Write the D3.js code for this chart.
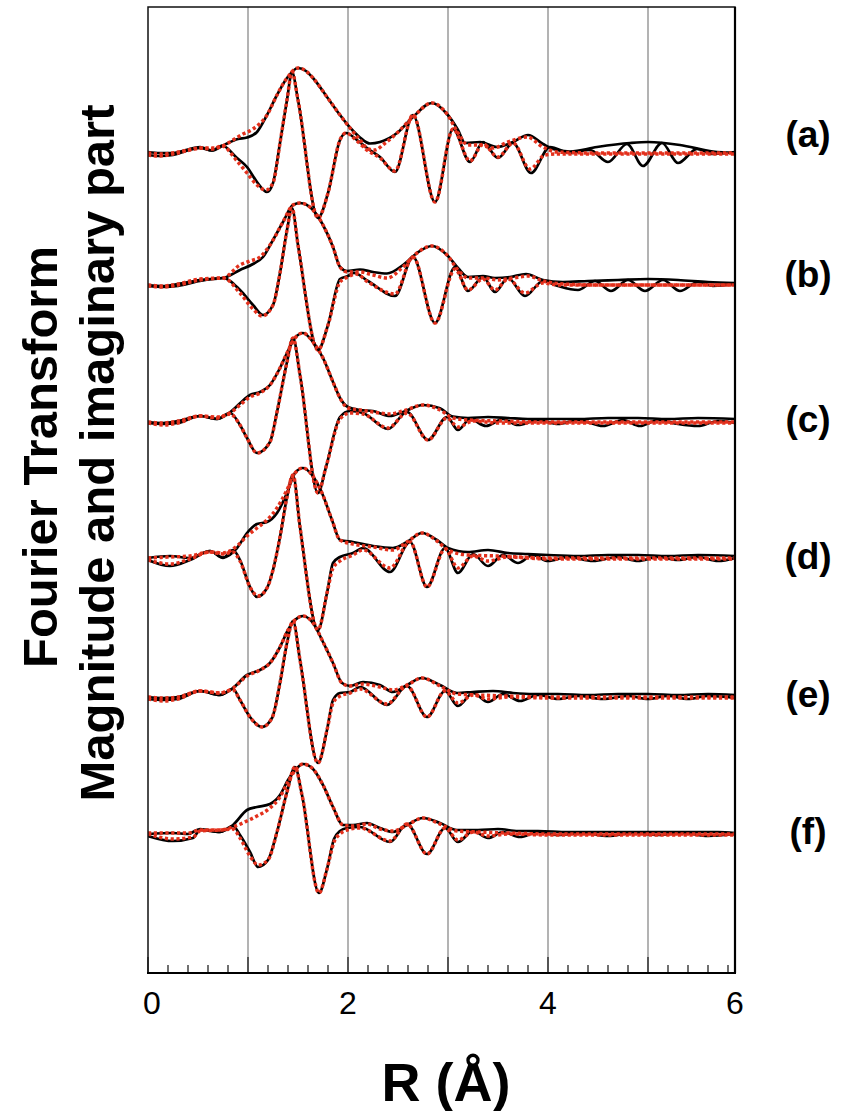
<!DOCTYPE html>
<html><head><meta charset="utf-8">
<script src="https://cdn.jsdelivr.net/npm/d3@7"></script>
<style>
body{margin:0;background:#fff;}
svg{display:block;font-family:"Liberation Sans",Arial,sans-serif;}
</style></head>
<body><svg id="chart" width="842" height="1111"></svg>
<script>
// ---------------- data ----------------
const R_MAX = 5.87;
const xTickLabels = [0, 2, 4, 6];
const gridR = [1, 2, 3, 4, 5];
const panelLabels = ["(a)", "(b)", "(c)", "(d)", "(e)", "(f)"];
const panelOffsets = [820, 688, 551, 415, 276, 139];

// Panel (a)
const magA_data = [[0,1],[0.12,0],[0.25,0],[0.38,3],[0.52,6],[0.64,2.5],[0.74,7],[0.8,10],[0.9,14],[0.99,15.5],[1.09,21],[1.19,38],[1.29,58],[1.39,75],[1.5,85],[1.58,82],[1.65,75],[1.79,56],[1.92,38],[2.02,25.5],[2.12,15.5],[2.22,9.5],[2.32,11],[2.49,20],[2.65,36],[2.84,50],[2.99,39],[3.1,23],[3.17,10],[3.32,11],[3.49,6],[3.65,11],[3.8,18],[3.95,9],[4.05,4],[4.22,1.5],[4.49,6],[4.82,10],[5.0,11],[5.32,8],[5.65,1.5],[5.87,0]];
const magA_fit  = [[0,0],[0.15,-1],[0.3,1],[0.45,4],[0.55,5],[0.65,5],[0.75,7],[0.85,13],[0.95,19],[1.05,24],[1.19,38],[1.29,58],[1.39,75],[1.5,85],[1.58,82],[1.65,75],[1.79,56],[1.92,38],[2.02,25],[2.12,13],[2.2,4],[2.27,3],[2.36,9],[2.49,20],[2.65,36],[2.84,50],[2.99,39],[3.1,20],[3.2,8],[3.32,8],[3.45,5],[3.6,11],[3.79,16],[3.95,6],[4.09,1],[4.5,0],[5.0,0],[5.87,0]];
const imA_data  = [[0,-2],[0.12,-3],[0.25,-2],[0.38,2],[0.52,5],[0.64,2.5],[0.74,7.5],[0.89,-5],[0.99,-14],[1.09,-29],[1.19,-39],[1.25,-30],[1.32,10],[1.39,53],[1.44,81],[1.5,53],[1.7,-65],[1.8,-40],[1.92,13],[1.98,20],[2.09,13],[2.19,5],[2.32,-4],[2.47,-19],[2.65,38],[2.87,-49],[3.05,24],[3.22,-9],[3.35,11],[3.5,-5],[3.65,10],[3.83,-20],[4.02,6],[4.22,0],[4.42,3],[4.6,-9],[4.79,9],[4.95,-13],[5.14,10],[5.3,-10],[5.49,4],[5.65,-1],[5.87,1]];
const imA_fit   = [[0,-2],[0.12,-3],[0.25,-1],[0.38,2],[0.52,5],[0.64,4],[0.74,7],[0.89,-8],[0.99,-20],[1.09,-32],[1.18,-37],[1.25,-30],[1.32,10],[1.39,53],[1.44,81],[1.5,53],[1.7,-65],[1.8,-40],[1.92,13],[1.98,20],[2.09,12],[2.19,3],[2.32,-5],[2.47,-18],[2.65,38],[2.87,-49],[3.05,24],[3.22,-8],[3.35,9],[3.5,-4],[3.65,10],[3.82,-16],[3.97,-2],[4.1,-1],[5.87,-1]];

// Panel (b)
const magB_data = [[0,0],[0.15,-1],[0.3,1],[0.52,5],[0.75,7],[0.92,15],[1.05,21],[1.15,28],[1.25,45],[1.35,63],[1.45,80],[1.52,82],[1.65,75],[1.75,60],[1.85,38],[1.92,18],[1.99,14],[2.12,15.5],[2.25,13],[2.39,11.5],[2.55,20],[2.69,32],[2.84,39],[2.99,30],[3.1,17],[3.2,8],[3.35,9],[3.47,7],[3.62,8],[3.78,11],[3.95,5],[4.15,3],[4.4,4],[4.7,5],[5.0,6],[5.3,5],[5.6,3],[5.87,2]];
const magB_fit  = [[0,0],[0.15,-1],[0.3,1],[0.52,6],[0.75,7],[0.92,20],[1.02,24],[1.12,28],[1.22,40],[1.35,63],[1.45,80],[1.52,82],[1.65,75],[1.75,60],[1.85,38],[1.92,18],[1.99,13],[2.12,13],[2.25,10],[2.39,7],[2.55,18],[2.69,32],[2.84,39],[2.99,30],[3.1,15],[3.2,7],[3.35,7],[3.5,5],[3.65,7],[3.8,9],[3.95,4],[4.15,1],[4.5,0],[5.87,0]];
const imB_data  = [[0,-1],[0.15,-2],[0.3,-1],[0.52,4],[0.75,7],[0.92,-5],[1.05,-20],[1.15,-30],[1.25,-20],[1.32,12],[1.39,55],[1.44,77],[1.5,40],[1.7,-65],[1.8,-40],[1.92,6],[2.0,9],[2.06,12],[2.2,4],[2.47,-11],[2.65,28],[2.87,-38],[3.07,18],[3.2,-6],[3.35,8],[3.47,-7],[3.6,7],[3.77,-11],[3.95,4],[4.1,-1],[4.3,-5],[4.47,4],[4.63,-6],[4.8,5],[4.97,-6],[5.15,5],[5.32,-6],[5.5,3],[5.65,-1],[5.87,1]];
const imB_fit   = [[0,-1],[0.15,-2],[0.3,0],[0.52,5],[0.75,7],[0.92,-8],[1.05,-24],[1.14,-31],[1.25,-20],[1.32,12],[1.39,55],[1.44,77],[1.5,40],[1.7,-65],[1.8,-40],[1.92,3],[2.0,8],[2.08,11],[2.2,3],[2.47,-9],[2.65,28],[2.87,-38],[3.07,16],[3.2,-5],[3.35,6],[3.47,-5],[3.6,6],[3.77,-8],[3.95,2],[4.1,0],[5.87,0]];

// Panel (c)
const magC_data = [[0,0],[0.15,-1],[0.3,1],[0.52,6],[0.69,3],[0.82,9.7],[0.92,18.7],[1.02,27],[1.12,30],[1.22,37],[1.32,54],[1.39,69],[1.47,84],[1.55,89],[1.65,80],[1.75,64],[1.85,40],[1.92,24],[2.0,15],[2.12,12],[2.25,11],[2.42,6],[2.55,10],[2.75,17],[2.92,13.7],[3.05,5.3],[3.2,4],[3.4,5],[3.6,4],[3.8,3],[4.0,3],[4.3,3],[4.6,4],[4.9,4],[5.2,3],[5.5,4],[5.87,3]];
const magC_fit  = [[0,0],[0.15,-1],[0.3,1],[0.52,6],[0.69,5],[0.82,9],[0.92,17],[1.02,25],[1.12,29],[1.22,37],[1.32,54],[1.39,69],[1.47,84],[1.55,89],[1.65,80],[1.75,64],[1.85,40],[1.92,24],[2.0,14],[2.12,12],[2.25,10],[2.42,8],[2.55,11],[2.75,17],[2.92,12],[3.05,4],[3.2,2],[3.5,1],[4.0,0],[5.87,0]];
const imC_data  = [[0,-1],[0.15,-2],[0.3,-1],[0.52,6],[0.69,3],[0.82,9],[0.92,-3],[0.99,-16],[1.09,-31],[1.22,-20],[1.29,10],[1.39,60],[1.45,84],[1.52,47],[1.7,-71],[1.78,-45],[1.92,5],[2.02,11],[2.15,9],[2.4,-7],[2.59,10],[2.8,-18],[2.99,5],[3.1,-8],[3.22,3],[3.38,-4],[3.55,3],[3.7,-3],[3.9,2],[4.1,-2],[4.3,2],[4.55,-4],[4.75,2],[4.92,-4],[5.1,2],[5.3,-2],[5.5,-4],[5.7,1],[5.87,-1]];
const imC_fit   = [[0,-1],[0.15,-3],[0.3,-1],[0.52,6],[0.69,4],[0.82,8],[0.92,-3],[0.99,-16],[1.09,-31],[1.22,-20],[1.29,10],[1.39,60],[1.45,84],[1.52,47],[1.7,-71],[1.78,-45],[1.92,3],[2.02,9],[2.15,8],[2.4,-6],[2.59,9],[2.8,-18],[2.99,4],[3.1,-5],[3.25,1],[3.5,-1],[4.0,-1],[5.87,-1]];

// Panel (d)
const magD_data = [[0,0],[0.22,2],[0.42,0],[0.62,7],[0.75,0.5],[0.89,10],[0.99,25],[1.09,34],[1.19,36],[1.29,45],[1.39,65],[1.47,85],[1.55,90],[1.64,83],[1.74,65],[1.84,38],[1.92,18],[2.05,16],[2.25,12],[2.45,10],[2.59,16],[2.74,25],[2.89,18],[3.0,10],[3.2,6],[3.4,8],[3.6,5],[3.8,4],[4.0,3],[4.3,2],[4.6,3],[4.9,3],[5.2,2],[5.5,3],[5.87,2]];
const magD_fit  = [[0,0],[0.22,1],[0.42,2],[0.62,6],[0.75,5],[0.89,12],[0.99,22],[1.09,30],[1.19,38],[1.29,50],[1.39,68],[1.47,85],[1.55,90],[1.64,83],[1.74,65],[1.84,38],[1.92,18],[2.05,14],[2.25,11],[2.45,8],[2.59,16],[2.74,25],[2.89,17],[3.0,8],[3.2,3],[3.5,2],[4.0,0],[5.87,0]];
const imD_data  = [[0,-2],[0.22,-8],[0.42,-2],[0.62,7],[0.75,0],[0.85,8],[0.92,-2],[1.02,-29],[1.09,-39],[1.19,-30],[1.25,-12],[1.32,21],[1.39,61],[1.45,83],[1.52,31],[1.7,-72],[1.79,-35],[1.85,-5],[1.92,1],[2.05,5],[2.15,10],[2.42,-14],[2.62,16],[2.79,-29],[2.97,10],[3.1,-15],[3.25,4],[3.4,-8],[3.55,3],[3.7,-5],[3.85,3],[4.0,-3],[4.2,1],[4.45,-3],[4.7,1],[4.9,-3],[5.1,1],[5.3,-2],[5.5,1],[5.7,-3],[5.87,0]];
const imD_fit   = [[0,-2],[0.22,-6],[0.42,-1],[0.62,6],[0.75,4],[0.85,6],[0.92,-3],[1.02,-29],[1.1,-38],[1.19,-30],[1.25,-12],[1.32,21],[1.39,61],[1.45,83],[1.52,31],[1.7,-72],[1.79,-35],[1.85,-10],[1.92,-3],[2.05,3],[2.15,8],[2.42,-10],[2.62,16],[2.79,-29],[2.97,9],[3.1,-10],[3.25,2],[3.4,-3],[3.6,1],[4.0,-1],[5.87,-1]];

// Panel (e)
const magE_data = [[0,0],[0.15,-1],[0.3,0],[0.52,6],[0.72,2],[0.85,9],[0.99,22],[1.12,27],[1.22,34],[1.32,50],[1.4,67],[1.47,77],[1.55,81],[1.65,74],[1.75,55],[1.85,34],[1.94,14],[2.02,11],[2.15,15],[2.32,12],[2.45,5],[2.59,12],[2.74,19],[2.92,12],[3.09,4],[3.25,5],[3.45,6],[3.65,4],[3.85,3],[4.1,3],[4.4,2],[4.7,3],[5.0,3],[5.3,2],[5.6,3],[5.87,2]];
const magE_fit  = [[0,0],[0.15,-1],[0.3,0],[0.52,6],[0.72,4],[0.85,9],[0.99,21],[1.12,27],[1.22,34],[1.32,50],[1.4,67],[1.47,77],[1.55,81],[1.65,74],[1.75,55],[1.85,34],[1.94,14],[2.02,11],[2.15,13],[2.32,10],[2.45,7],[2.59,12],[2.74,19],[2.92,11],[3.09,3],[3.3,2],[3.6,1],[4.0,0],[5.87,0]];
const imE_data  = [[0,-2],[0.15,-3],[0.3,-2],[0.52,6],[0.72,2],[0.85,8],[0.92,-3],[1.02,-20],[1.14,-30],[1.24,-21],[1.32,14],[1.39,54],[1.45,76],[1.52,37],[1.7,-66],[1.79,-33],[1.85,-3],[1.92,4],[2.02,5],[2.12,10],[2.39,-8],[2.59,11],[2.79,-20],[2.97,6],[3.1,-9],[3.25,4],[3.4,-5],[3.55,3],[3.72,-4],[3.9,2],[4.1,-2],[4.3,1],[4.55,-2],[4.8,1],[5.0,-2],[5.2,1],[5.4,-2],[5.6,1],[5.87,-1]];
const imE_fit   = [[0,-2],[0.15,-4],[0.3,-2],[0.52,6],[0.72,4],[0.85,7],[0.92,-3],[1.02,-20],[1.14,-30],[1.24,-21],[1.32,14],[1.39,54],[1.45,76],[1.52,37],[1.7,-66],[1.79,-33],[1.85,-6],[1.92,1],[2.02,4],[2.12,8],[2.39,-7],[2.59,11],[2.79,-20],[2.97,6],[3.1,-6],[3.25,2],[3.4,-2],[3.6,0],[4.0,-1],[5.87,-1]];

// Panel (f)
const magF_data = [[0,0],[0.25,1],[0.4,0],[0.52,5],[0.72,2],[0.85,9],[0.99,24],[1.09,27],[1.22,30],[1.32,39],[1.4,54],[1.49,66],[1.55,70],[1.65,65],[1.75,49],[1.85,27],[1.95,9],[2.05,9],[2.19,11],[2.32,6],[2.45,2],[2.59,9],[2.75,16],[2.92,11],[3.09,4],[3.3,4],[3.5,5],[3.7,3],[3.9,3],[4.2,2],[4.5,2],[4.8,2],[5.1,2],[5.4,2],[5.7,2],[5.87,1]];
const magF_fit  = [[0,1],[0.25,1],[0.4,1],[0.52,4],[0.72,4],[0.85,7],[0.99,13],[1.09,18],[1.22,26],[1.32,37],[1.4,52],[1.49,66],[1.55,70],[1.65,65],[1.75,49],[1.85,27],[1.95,9],[2.05,8],[2.19,10],[2.32,5],[2.45,3],[2.59,9],[2.75,16],[2.92,10],[3.09,3],[3.3,2],[3.6,1],[4.0,0],[5.87,0]];
const imF_data  = [[0,-2],[0.25,-7],[0.45,-4],[0.52,4],[0.72,2],[0.85,8],[0.92,-1],[1.02,-18],[1.1,-33],[1.2,-26],[1.29,2],[1.39,42],[1.47,67],[1.54,39],[1.71,-59],[1.79,-35],[1.86,-5],[1.92,3],[1.99,6],[2.12,7],[2.42,-8],[2.59,10],[2.79,-20],[2.97,6],[3.1,-8],[3.25,3],[3.4,-4],[3.55,2],[3.72,-3],[3.9,2],[4.1,-1],[4.35,1],[4.6,-2],[4.85,1],[5.1,-1],[5.35,1],[5.6,-2],[5.87,0]];
const imF_fit   = [[0,0],[0.25,-5],[0.45,-3],[0.52,3],[0.72,4],[0.85,5],[0.92,-4],[1.02,-22],[1.1,-31],[1.2,-26],[1.29,2],[1.39,42],[1.47,67],[1.54,39],[1.71,-59],[1.79,-35],[1.86,-8],[1.92,0],[1.99,4],[2.12,6],[2.42,-7],[2.59,10],[2.79,-20],[2.97,6],[3.1,-6],[3.25,2],[3.4,-2],[3.6,0],[4.0,-1],[5.87,-1]];

// ---------------- drawing ----------------
const panels = [
  {mag:[magA_data, magA_fit], im:[imA_data, imA_fit]},
  {mag:[magB_data, magB_fit], im:[imB_data, imB_fit]},
  {mag:[magC_data, magC_fit], im:[imC_data, imC_fit]},
  {mag:[magD_data, magD_fit], im:[imD_data, imD_fit]},
  {mag:[magE_data, magE_fit], im:[imE_data, imE_fit]},
  {mag:[magF_data, magF_fit], im:[imF_data, imF_fit]}
];

const svg = d3.select("#chart");
const L = 148, Rr = 735, T = 7, B = 973;
const x = d3.scaleLinear().domain([0, R_MAX]).range([L, Rr]);
const y = d3.scaleLinear().domain([0, B - T]).range([B, T]);

svg.append("defs").append("clipPath").attr("id","clip")
  .append("rect").attr("x",L).attr("y",T).attr("width",Rr-L).attr("height",B-T);

// grid lines
svg.append("g").selectAll("line").data(gridR).join("line")
  .attr("x1",d=>x(d)).attr("x2",d=>x(d)).attr("y1",T).attr("y2",B)
  .attr("stroke","#8a8a8a").attr("stroke-width",1.3);

// minor / major ticks (inside)
const minor = d3.range(0, R_MAX + 1e-9, 0.2).map(v=>+v.toFixed(1));
svg.append("g").selectAll("line").data(minor).join("line")
  .attr("x1",d=>x(d)).attr("x2",d=>x(d))
  .attr("y1",B).attr("y2",d=>B - (Math.abs(d-Math.round(d))<1e-6 ? 16 : 8))
  .attr("stroke","#222").attr("stroke-width",1.3);

// curves
const plot = svg.append("g").attr("clip-path","url(#clip)");
panels.forEach((p, i) => {
  const off = panelOffsets[i];
  const line = d3.line().x(d=>x(d[0])).y(d=>y(d[1] + off)).curve(d3.curveMonotoneX);
  [p.mag[0], p.im[0]].forEach(s => plot.append("path").attr("d", line(s))
     .attr("fill","none").attr("stroke","#000").attr("stroke-width",2.7).attr("stroke-linejoin","round"));
  [p.mag[1], p.im[1]].forEach(s => plot.append("path").attr("d", line(s))
     .attr("fill","none").attr("stroke","#e3301c").attr("stroke-width",3.5)
     .attr("stroke-dasharray","3.2,2.6"));
});

// frame
svg.append("path").attr("d",`M${L},${B}V${T}H${Rr}V${B}`)
  .attr("fill","none").attr("stroke","#111").attr("stroke-width",1.5);
svg.append("line").attr("x1",Rr).attr("x2",Rr).attr("y1",T).attr("y2",B)
  .attr("stroke","#000").attr("stroke-width",2.2);
svg.append("line").attr("x1",L-1).attr("x2",Rr+1).attr("y1",B).attr("y2",B)
  .attr("stroke","#000").attr("stroke-width",1.8);

// tick labels
svg.append("g").selectAll("text").data(xTickLabels).join("text")
  .attr("x",d=>x(Math.min(d, R_MAX)) + (d === 0 ? 4 : 0)).attr("y",1014)
  .attr("text-anchor","middle").attr("font-size",32).attr("fill","#000")
  .text(d=>d);

// axis titles
svg.append("text").attr("x",446).attr("y",1101).attr("text-anchor","middle")
  .attr("font-size",54).attr("font-weight","bold").text("R (Å)");
svg.append("text").attr("transform","translate(57,457) rotate(-90)")
  .attr("text-anchor","middle").attr("font-size",49).attr("font-weight","bold")
  .text("Fourier Transform");
svg.append("text").attr("transform","translate(114,453) rotate(-90)")
  .attr("text-anchor","middle").attr("font-size",49).attr("font-weight","bold")
  .text("Magnitude and imaginary part");

// panel labels
const labelY = [147, 287, 432, 569, 707, 844];
svg.append("g").selectAll("text").data(panelLabels).join("text")
  .attr("x",808).attr("y",(d,i)=>labelY[i]).attr("text-anchor","middle")
  .attr("font-size",37).attr("font-weight","bold").text(d=>d);
</script></body></html>
